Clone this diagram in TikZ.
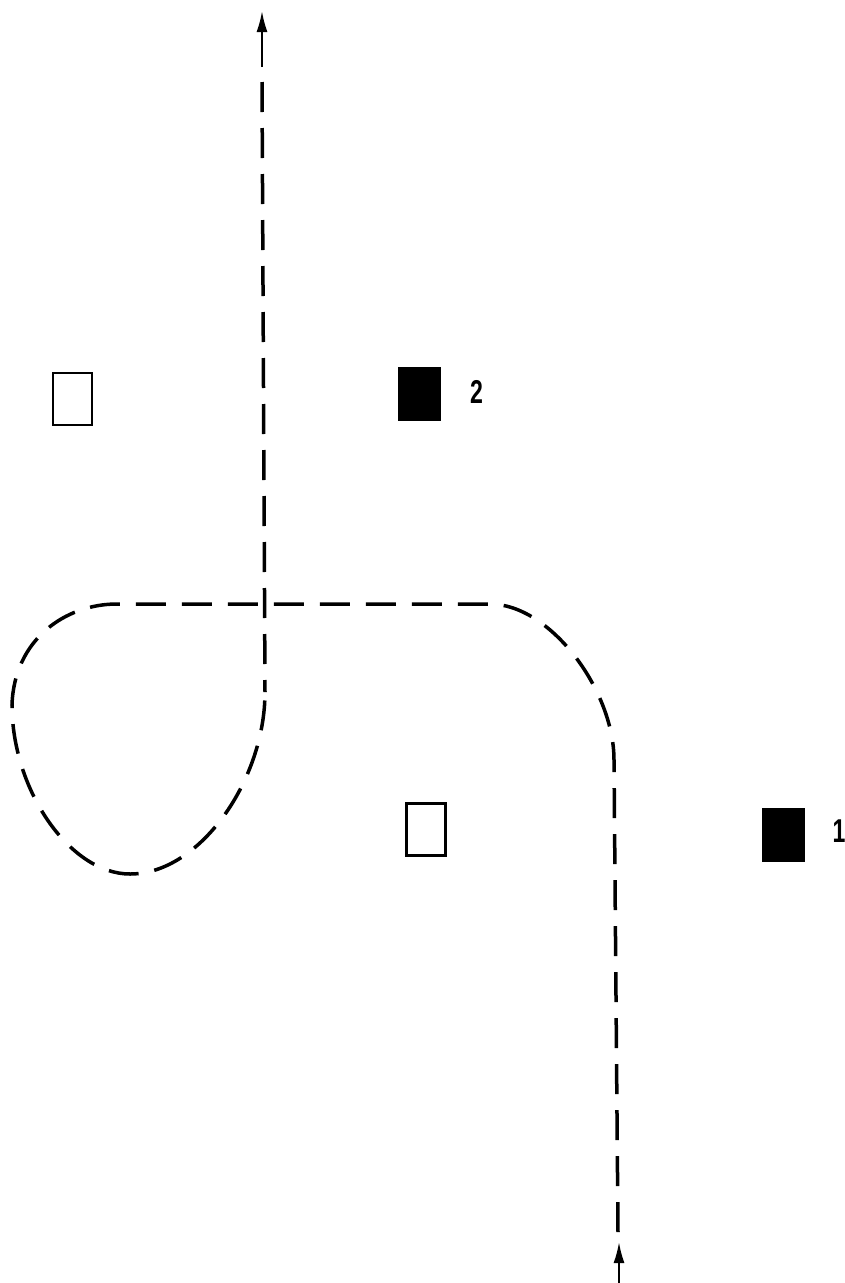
\documentclass[tikz,border=0pt]{standalone}
\usepackage{fontspec}
\setmainfont{Liberation Sans}
\usetikzlibrary{arrows.meta}
\begin{document}
\begin{tikzpicture}[x=1pt,y=-1pt,
  openbox/.style={draw=black,line width=2.6pt,fill=white,minimum width=39pt,minimum height=52pt,inner sep=0pt},
  solidbox/.style={draw=black,line width=1pt,fill=black,minimum width=42pt,minimum height=53pt,inner sep=0pt},
  lbl/.style={font=\bfseries\fontsize{33}{33}\selectfont,xscale=0.7,inner sep=0pt},
  track/.style={line width=3.5pt,dash pattern=on 30pt off 16pt,line cap=butt},
  tipline/.style={line width=2pt,-{Latex[length=21pt,width=11pt]}}]
\useasboundingbox (0,0) rectangle (845,1283);
% boxes
\node[openbox] (o1) at (72.5,399) {};
\node[solidbox] (b2) at (419.5,394) {};
\node[openbox] (o2) at (426,829.5) {};
\node[solidbox] (b1) at (783.5,835) {};
\node[lbl] (l2) at (476.5,391.5) {2};
\node[lbl] (l1) at (839,831.5) {1};
% track coordinates
\coordinate (s) at (618,1232);
\coordinate (r1) at (614,760);
\coordinate (r2) at (490,604);
\coordinate (h1) at (117,604);
\coordinate (lw) at (12,705);
\coordinate (lb) at (130,874);
\coordinate (v1) at (265,692);
\coordinate (e) at (262,82);
\draw[track] (s) -- (r1) .. controls (614,690) and (550,604) .. (r2)
  -- (h1) .. controls (65,604) and (14,640) .. (lw)
  .. controls (12,790) and (70,874) .. (lb)
  .. controls (200,874) and (265,780) .. (v1);
\draw[track] (e) -- (v1);
% arrows
\coordinate (ta) at (262,67);
\coordinate (tt) at (262,11);
\draw[tipline] (ta) -- (tt);
\coordinate (ba) at (619,1283);
\coordinate (bt) at (619,1242);
\draw[tipline] (ba) -- (bt);
\end{tikzpicture}
\end{document}
